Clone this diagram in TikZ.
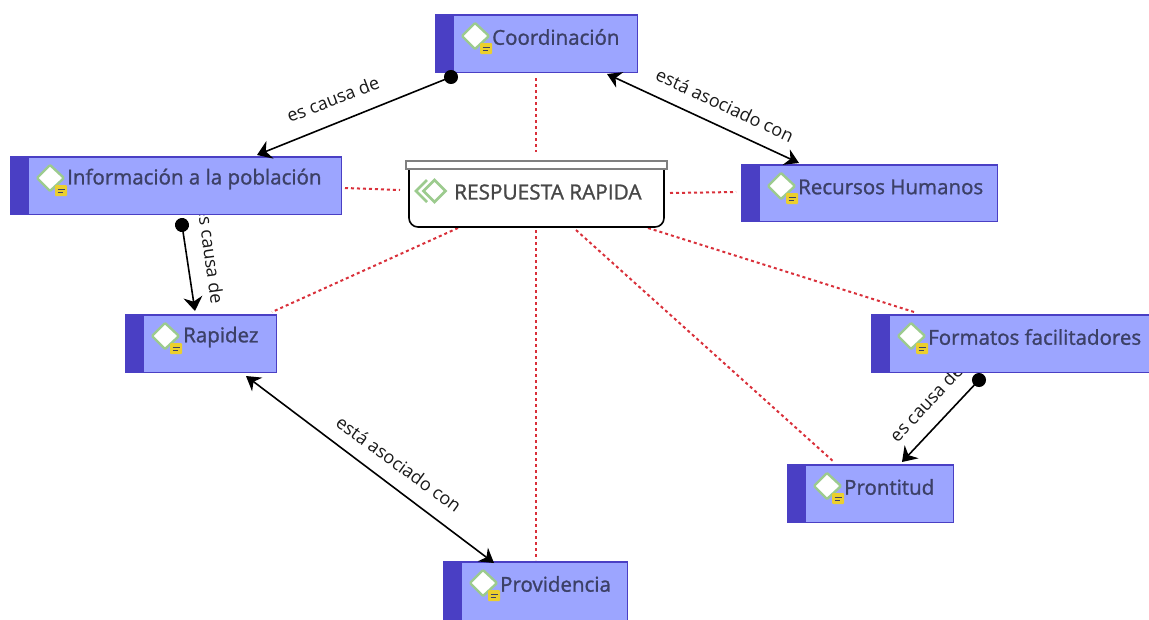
\documentclass[tikz,border=0pt]{standalone}
\usepackage{fontspec}
\setmainfont{Open Sans}
\newfontfamily\medfont[FakeBold=1.2]{Open Sans}
\usetikzlibrary{arrows.meta,calc}
\definecolor{boxfill}{HTML}{9CA5FF}
\definecolor{boxedge}{HTML}{4A3FC4}
\definecolor{boxtext}{HTML}{3C4066}
\definecolor{iconedge}{HTML}{9CCB8E}
\definecolor{notefill}{HTML}{EBCF2E}
\definecolor{reddash}{HTML}{D9303A}
\tikzset{
 conceptbox/.style={draw=boxedge,line width=1.8pt,fill=boxfill,inner sep=0pt,anchor=north west},
 stripbox/.style={fill=boxedge,draw=boxedge,line width=1.8pt,inner sep=0pt,anchor=north west},
 icondiamond/.style={draw=iconedge,line width=2.4pt,fill=white,rounded corners=1pt},
 conceptlabel/.style={text=boxtext,font=\medfont\fontsize{20.5}{23}\selectfont,anchor=west,inner sep=0pt},
 linklabel/.style={text=black!90,font=\fontsize{18}{20}\selectfont,inner sep=0pt},
 link/.style={draw=black,line width=1.6pt},
 dotlink/.style={link,shorten <=-7pt,{Circle[length=14pt]}-{Stealth[length=14pt,width=19pt]}},
 bothlink/.style={link,{Stealth[length=14pt,width=17pt]}-{Stealth[length=14pt,width=17pt]}},
 redlink/.style={draw=reddash,line width=2pt,dash pattern=on 3pt off 3pt},
}
\newcommand{\concept}[7]{% name x0 y0 x1 y1 label labelx
 \node[conceptbox,minimum width=#4pt-#2pt-1.5pt,minimum height=#5pt-#3pt-1.5pt] (#1) at (#2,#3) {};
 \node[stripbox,minimum width=17pt,minimum height=#5pt-#3pt-1.5pt] (#1s) at (#2,#3) {};
 \draw[icondiamond] ($(#2,#3)+(40,9)$) -- ($(#2,#3)+(54,22)$) -- ($(#2,#3)+(40,35)$) -- ($(#2,#3)+(27,22)$) -- cycle;
 \fill[notefill,rounded corners=1pt] ($(#2,#3)+(45,29)$) rectangle ($(#2,#3)+(57,40)$);
 \draw[boxtext,line width=1pt] ($(#2,#3)+(47.5,33)$) -- ($(#2,#3)+(54.5,33)$) ($(#2,#3)+(47.5,36)$) -- ($(#2,#3)+(53,36)$);
 \node[conceptlabel] (#1t) at (#7,#3+23) {#6};
}
\begin{document}
\begin{tikzpicture}[x=1pt,y=-1pt]
\useasboundingbox (0,0) rectangle (1149,619);
% free ends
\coordinate (a1) at (451,77); \coordinate (a2) at (257,155);
\coordinate (b1) at (607,74); \coordinate (b2) at (799,163);
\coordinate (c1) at (182,225); \coordinate (c2) at (195,311);
\coordinate (d1) at (246,376); \coordinate (d2) at (494,563);
\coordinate (e1) at (979,380); \coordinate (e2) at (902,462);
\coordinate (r1a) at (536,78); \coordinate (r1b) at (536,152);
\coordinate (r2a) at (536,230); \coordinate (r2b) at (536,560);
\coordinate (r3a) at (345,188); \coordinate (r3b) at (400,190);
\coordinate (r4a) at (670,193); \coordinate (r4b) at (736,192);
\coordinate (r5a) at (458,228); \coordinate (r5b) at (272,312);
\coordinate (r6a) at (576,230); \coordinate (r6b) at (834,462);
\coordinate (r7a) at (648,228); \coordinate (r7b) at (914,312);
% red dotted links
\foreach \p/\q in {r1a/r1b,r2a/r2b,r3a/r3b,r4a/r4b,r5a/r5b,r6a/r6b,r7a/r7b}
  \draw[redlink] (\p) -- (\q);
% link labels (lie under the boxes)
\node[linklabel,rotate=21] (la) at (333,99) {es causa de};
\node[linklabel,rotate=-25] (lb) at (725,105) {está asociado con};
\node[linklabel,rotate=-82] (lc) at (211,255) {es causa de};
\node[linklabel,rotate=-36] (ld) at (399,464) {está asociado con};
\node[linklabel,rotate=47] (le) at (926,403) {es causa de};
% concepts
\concept{coord}{435}{14}{638}{73}{Coordinación}{492}
\concept{info}{10}{156}{342}{215}{Información a la población}{67}
\concept{rrhh}{741}{164}{998}{222}{Recursos Humanos}{798}
\concept{rapi}{125}{314}{277}{373}{Rapidez}{183}
\concept{form}{871}{314}{1152}{373}{Formatos facilitadores}{928}
\concept{pron}{787}{464}{954}{523}{Prontitud}{844}
\concept{prov}{443}{561}{628}{625}{Providencia}{500}
% connectors
\draw[dotlink] (a1) -- (a2);
\draw[bothlink] (b1) -- (b2);
\draw[dotlink] (c1) -- (c2);
\draw[bothlink] (d1) -- (d2);
\draw[dotlink] (e1) -- (e2);
% central topic
\draw[black,line width=1.6pt,fill=white,rounded corners=9pt] (409,164) -- (409,227) -- (664,227) -- (664,164);
\node[draw=black!50,line width=1.6pt,fill=white,inner sep=0pt,anchor=north west,minimum width=261pt,minimum height=8pt] (bar) at (405,160) {};
\draw[iconedge,line width=2.6pt] (427,180) -- (416,191) -- (427,202);
\draw[iconedge,line width=2.6pt] (434.5,180) -- (445.5,191) -- (434.5,202) -- (423.5,191) -- cycle;
\node[text=black!72,font=\medfont\fontsize{20.8}{24}\selectfont,anchor=west,inner sep=0pt] (main) at (454,192) {RESPUESTA RAPIDA};
\end{tikzpicture}
\end{document}
